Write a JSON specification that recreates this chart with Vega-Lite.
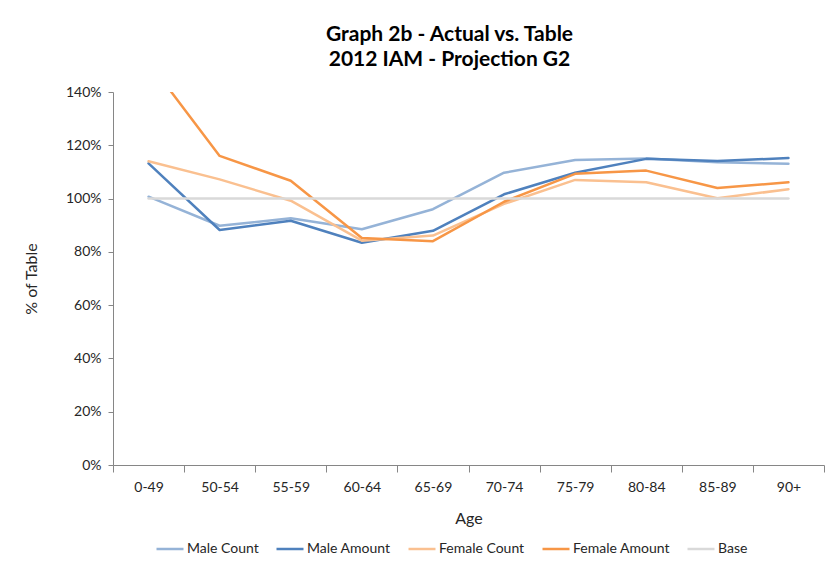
{
  "$schema": "https://vega.github.io/schema/vega-lite/v6.json",
  "width": 711,
  "height": 373,
  "autosize": {"type": "none"},
  "padding": {"left": 113, "top": 92, "right": 16, "bottom": 111},
  "background": "white",
  "title": {
    "text": ["Graph 2b - Actual vs. Table", "2012 IAM - Projection G2"],
    "font": "Lato",
    "fontSize": 21,
    "fontWeight": "bold",
    "lineHeight": 25,
    "color": "#000000",
    "anchor": "middle",
    "frame": "group",
    "dx": -19,
    "offset": 15
  },
  "config": {
    "view": {"stroke": null},
    "font": "Lato",
    "axis": {"labelFont": "Lato", "titleFont": "Lato", "labelColor": "#262626", "titleColor": "#262626", "labelFontSize": 14, "titleFontSize": 16, "titleFontWeight": "normal", "domainColor": "#868686", "tickColor": "#868686", "grid": false}
  },
  "data": {
    "values": [
      {"age": "0-49", "series": "Male Count", "value": 1.007},
      {"age": "50-54", "series": "Male Count", "value": 0.898},
      {"age": "55-59", "series": "Male Count", "value": 0.926},
      {"age": "60-64", "series": "Male Count", "value": 0.885},
      {"age": "65-69", "series": "Male Count", "value": 0.960},
      {"age": "70-74", "series": "Male Count", "value": 1.097},
      {"age": "75-79", "series": "Male Count", "value": 1.145},
      {"age": "80-84", "series": "Male Count", "value": 1.150},
      {"age": "85-89", "series": "Male Count", "value": 1.136},
      {"age": "90+", "series": "Male Count", "value": 1.131},
      {"age": "0-49", "series": "Male Amount", "value": 1.132},
      {"age": "50-54", "series": "Male Amount", "value": 0.882},
      {"age": "55-59", "series": "Male Amount", "value": 0.917},
      {"age": "60-64", "series": "Male Amount", "value": 0.834},
      {"age": "65-69", "series": "Male Amount", "value": 0.879},
      {"age": "70-74", "series": "Male Amount", "value": 1.016},
      {"age": "75-79", "series": "Male Amount", "value": 1.097},
      {"age": "80-84", "series": "Male Amount", "value": 1.149},
      {"age": "85-89", "series": "Male Amount", "value": 1.141},
      {"age": "90+", "series": "Male Amount", "value": 1.152},
      {"age": "0-49", "series": "Female Count", "value": 1.140},
      {"age": "50-54", "series": "Female Count", "value": 1.072},
      {"age": "55-59", "series": "Female Count", "value": 0.992},
      {"age": "60-64", "series": "Female Count", "value": 0.842},
      {"age": "65-69", "series": "Female Count", "value": 0.861},
      {"age": "70-74", "series": "Female Count", "value": 0.980},
      {"age": "75-79", "series": "Female Count", "value": 1.070},
      {"age": "80-84", "series": "Female Count", "value": 1.061},
      {"age": "85-89", "series": "Female Count", "value": 1.001},
      {"age": "90+", "series": "Female Count", "value": 1.035},
      {"age": "0-49", "series": "Female Amount", "value": 1.513},
      {"age": "50-54", "series": "Female Amount", "value": 1.160},
      {"age": "55-59", "series": "Female Amount", "value": 1.067},
      {"age": "60-64", "series": "Female Amount", "value": 0.852},
      {"age": "65-69", "series": "Female Amount", "value": 0.840},
      {"age": "70-74", "series": "Female Amount", "value": 0.988},
      {"age": "75-79", "series": "Female Amount", "value": 1.093},
      {"age": "80-84", "series": "Female Amount", "value": 1.105},
      {"age": "85-89", "series": "Female Amount", "value": 1.040},
      {"age": "90+", "series": "Female Amount", "value": 1.061},
      {"age": "0-49", "series": "Base", "value": 1.0},
      {"age": "50-54", "series": "Base", "value": 1.0},
      {"age": "55-59", "series": "Base", "value": 1.0},
      {"age": "60-64", "series": "Base", "value": 1.0},
      {"age": "65-69", "series": "Base", "value": 1.0},
      {"age": "70-74", "series": "Base", "value": 1.0},
      {"age": "75-79", "series": "Base", "value": 1.0},
      {"age": "80-84", "series": "Base", "value": 1.0},
      {"age": "85-89", "series": "Base", "value": 1.0},
      {"age": "90+", "series": "Base", "value": 1.0}
    ]
  },
  "mark": {"type": "line", "clip": true, "strokeJoin": "round", "strokeCap": "round"},
  "encoding": {
    "x": {
      "field": "age",
      "type": "ordinal",
      "sort": ["0-49", "50-54", "55-59", "60-64", "65-69", "70-74", "75-79", "80-84", "85-89", "90+"],
      "scale": {"type": "band", "paddingInner": 0, "paddingOuter": 0},
      "bandPosition": 0.5,
      "axis": {"title": "Age", "labelAngle": 0, "tickBand": "extent", "tickSize": 7, "labelPadding": 8, "titlePadding": 16}
    },
    "y": {
      "field": "value",
      "type": "quantitative",
      "scale": {"domain": [0, 1.4], "nice": false},
      "axis": {"title": "% of Table", "format": ".0%", "values": [0, 0.2, 0.4, 0.6, 0.8, 1.0, 1.2, 1.4], "tickSize": 5, "labelPadding": 7, "titlePadding": 26}
    },
    "color": {
      "field": "series",
      "type": "nominal",
      "scale": {
        "domain": ["Male Count", "Male Amount", "Female Count", "Female Amount", "Base"],
        "range": ["#95B3D7", "#4F81BD", "#FAC090", "#F79646", "#D9D9D9"]
      },
      "legend": {
        "title": null,
        "orient": "none",
        "direction": "horizontal",
        "legendX": 42,
        "legendY": 442,
        "symbolType": "stroke",
        "symbolSize": 729,
        "symbolStrokeWidth": 2.5,
        "labelFontSize": 14,
        "labelFont": "Lato",
        "labelColor": "#262626",
        "labelOffset": 2,
        "columnPadding": 12
      }
    },
    "strokeWidth": {
      "field": "series",
      "type": "nominal",
      "scale": {
        "domain": ["Male Count", "Male Amount", "Female Count", "Female Amount", "Base"],
        "range": [2.5, 2.5, 2.5, 2.5, 1.5]
      },
      "legend": null
    }
  }
}
